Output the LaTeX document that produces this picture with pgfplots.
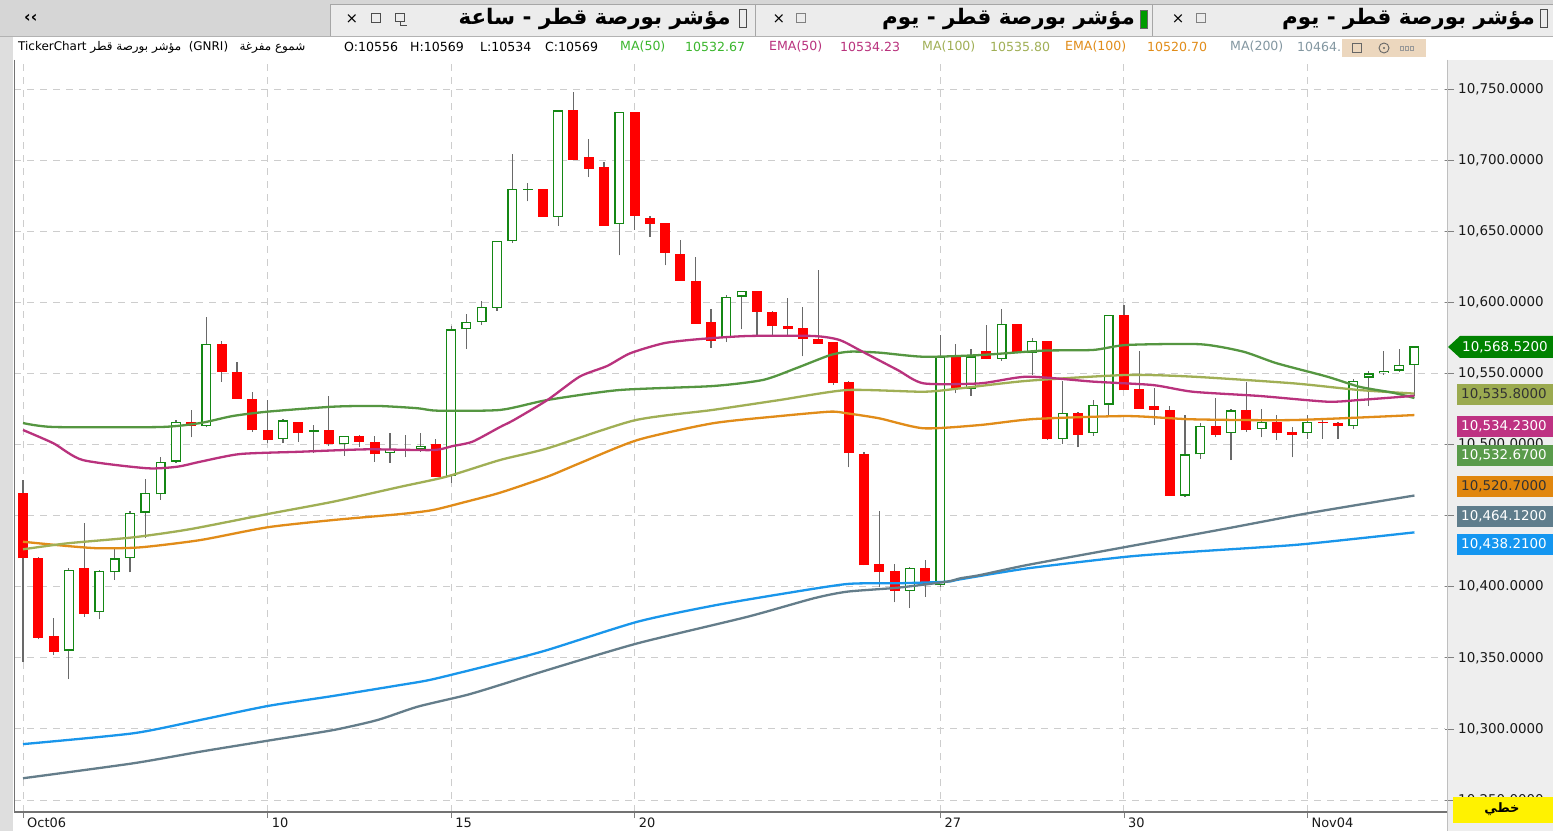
\documentclass[border=0pt]{standalone}
\usepackage{fontspec}
\setmainfont{DejaVu Sans}
\newfontfamily\arabicfont[Script=Arabic]{DejaVu Sans}
\usepackage{pgfplots}
\pgfplotsset{compat=1.18}
\usepackage{pgfplotstable}
\TeXXeTstate=1

\definecolor{bullc}{RGB}{20,135,20}
\definecolor{bearc}{RGB}{255,0,0}
\definecolor{wickc}{RGB}{105,105,105}
\definecolor{maL}{RGB}{85,150,65}
\definecolor{emaL}{RGB}{185,50,125}
\definecolor{maM}{RGB}{160,175,85}
\definecolor{emaM}{RGB}{225,140,25}
\definecolor{maS}{RGB}{100,125,138}
\definecolor{emaS}{RGB}{25,150,235}
\definecolor{gridc}{RGB}{205,205,205}
\definecolor{tabbar}{RGB}{214,214,214}
\definecolor{tabc}{RGB}{236,236,236}
\definecolor{stripc}{RGB}{238,238,238}
\definecolor{leftc}{RGB}{222,222,222}
\definecolor{lastc}{RGB}{0,130,0}
\definecolor{olbox}{RGB}{155,170,80}
\definecolor{mgbox}{RGB}{190,50,130}
\definecolor{gnbox}{RGB}{90,155,75}
\definecolor{orbox}{RGB}{225,135,15}
\definecolor{slbox}{RGB}{95,125,140}
\definecolor{blbox}{RGB}{20,150,240}
\definecolor{tanc}{RGB}{236,215,190}

% bullish candles: index, open, high, low, close
\pgfplotstableread{
i O H L C
3 10355 10413 10335 10412
5 10382 10412 10377 10411
6 10410 10427 10405 10420
7 10420 10453 10410 10452
8 10452 10476 10434 10466
9 10465 10491 10461 10488
10 10488 10517 10487 10516
12 10513 10590 10512 10571
17 10504 10518 10501 10517
19 10509 10514 10494 10510
21 10500 10506 10492 10506
24 10494 10508 10487 10497
25 10496 10507 10491 10497
26 10497 10508 10495 10499
28 10478 10583 10473 10581
29 10581 10592 10567 10586
30 10586 10601 10584 10597
31 10596 10643 10594 10643
32 10643 10704 10642 10680
33 10679 10684 10671 10680
35 10660 10735 10654 10735
39 10655 10734 10633 10734
46 10575 10605 10572 10604
47 10604 10608 10581 10608
58 10397 10414 10385 10413
60 10401 10577 10400 10562
62 10539 10567 10534 10562
64 10560 10595 10559 10585
66 10564 10575 10549 10573
68 10504 10545 10500 10522
70 10508 10531 10506 10528
71 10528 10591 10520 10591
76 10464 10521 10463 10493
77 10493 10515 10490 10513
79 10508 10525 10489 10524
81 10511 10525 10505 10516
84 10508 10521 10504 10516
87 10513 10546 10511 10545
88 10547 10552 10527 10550
89 10550 10566 10549 10552
90 10552 10567 10551 10556
91 10556 10569 10534 10569
}\bull

% bearish candles
\pgfplotstableread{
i O H L C
0 10466 10475 10347 10420
1 10420 10421 10363 10364
2 10365 10378 10352 10354
4 10413 10445 10379 10381
11 10516 10524 10505 10513
13 10571 10573 10544 10551
14 10551 10558 10532 10532
15 10532 10537 10509 10510
16 10510 10531 10501 10503
18 10516 10516 10502 10508
20 10510 10534 10499 10500
22 10506 10507 10498 10502
23 10502 10506 10488 10493
27 10500 10504 10477 10477
34 10680 10680 10660 10660
36 10735 10748 10700 10700
37 10702 10715 10688 10694
38 10695 10699 10654 10654
40 10734 10734 10651 10661
41 10659 10661 10646 10655
42 10656 10656 10626 10635
43 10634 10644 10615 10615
44 10615 10632 10585 10585
45 10586 10595 10568 10573
48 10608 10608 10577 10593
49 10593 10594 10577 10583
50 10583 10603 10577 10581
51 10582 10597 10562 10574
52 10574 10623 10571 10571
53 10572 10572 10542 10543
54 10544 10545 10484 10494
55 10493 10495 10415 10415
56 10416 10453 10400 10410
57 10411 10416 10389 10397
59 10413 10419 10393 10401
61 10562 10571 10536 10540
63 10566 10584 10560 10560
65 10585 10585 10564 10564
67 10573 10573 10503 10504
69 10522 10523 10498 10507
72 10591 10598 10538 10538
73 10539 10566 10525 10525
74 10527 10540 10514 10524
75 10524 10527 10464 10464
78 10513 10533 10505 10507
80 10524 10544 10509 10510
82 10516 10521 10503 10508
83 10509 10512 10491 10507
85 10516 10517 10504 10515
86 10515 10516 10504 10513
}\bear

\begin{document}
\begin{tikzpicture}
% ---------- backgrounds ----------
\begin{scope}[xshift=-14bp, yshift=812bp, x=1bp, y=-1bp]
  \fill[white] (0,0) rectangle (1553,831);
  \fill[tabbar] (0,0) rectangle (1553,36);
  \fill[tabc] (330,4) rectangle (755,36);
  \fill[tabc] (756,4) rectangle (1152,36);
  \fill[tabc] (1153,4) rectangle (1553,36);
  \draw[gray!70, line width=0.8bp] (330,36) -- (330,4) -- (1553,4);
  \draw[gray!70, line width=0.8bp] (755.5,4) -- (755.5,36);
  \draw[gray!70, line width=0.8bp] (1152.5,4) -- (1152.5,36);
  \draw[gray!60, line width=0.8bp] (0,36.5) -- (1553,36.5);
  \fill[leftc] (0,37) rectangle (13,831);
  \fill[stripc] (1447,60) rectangle (1553,831);
\end{scope}

\begin{axis}[
  at={(0,0)}, anchor=south west,
  scale only axis, width=1431bp, height=752bp,
  xmin=-0.589, xmax=93.0,
  ymin=10241.56, ymax=10770.39,
  axis line style={draw=none},
  xtick={0,16,28,40,60,72,84},
  xticklabels={Oct06,10,15,20,27,30,Nov04},
  ytick={10250,10300,...,10750},
  scaled y ticks=false,
  xtick pos=bottom, ytick pos=right,
  yticklabel pos=right,
  tick align=outside,
  major tick length=9bp,
  xtick style={draw=gray, line width=0.8bp, /pgfplots/major tick length=6bp},
  ytick style={draw=gray, line width=0.8bp},
  grid=major,
  major grid style={draw=gridc, dash pattern=on 7bp off 6bp, line width=0.9bp},
  /pgf/number format/assume math mode=true,
  yticklabel={\pgfmathprintnumber[fixed, fixed zerofill, precision=4, 1000 sep={,}]{\tick}},
  ticklabel style={font=\fontsize{13.5}{15}\selectfont, text=black!90},
  yticklabel style={anchor=west, inner sep=0pt, xshift=4bp},
  xticklabel style={anchor=north west, inner sep=0pt, xshift=4bp, yshift=3bp, font=\fontsize{13}{14}\selectfont},
]
% wicks
\addplot[draw=none, mark=none, forget plot,
  error bars/.cd, y dir=plus, y explicit, error mark=none,
  error bar style={draw=wickc, line width=1.2bp}]
  table[x=i, y=L, y error plus expr=\thisrow{H}-\thisrow{L}] {\bear};
\addplot[draw=none, mark=none, forget plot,
  error bars/.cd, y dir=plus, y explicit, error mark=none,
  error bar style={draw=wickc, line width=1.2bp}]
  table[x=i, y=L, y error plus expr=\thisrow{H}-\thisrow{L}] {\bull};
% bearish bodies
\addplot[draw=none, mark=none, forget plot,
  error bars/.cd, y dir=plus, y explicit, error mark=none,
  error bar style={draw=bearc, line width=10bp}]
  table[x=i, y=C, y error plus expr=\thisrow{O}-\thisrow{C}] {\bear};
% bullish bodies (outline + hollow interior)
\addplot[draw=none, mark=none, forget plot,
  error bars/.cd, y dir=plus, y explicit, error mark=none,
  error bar style={draw=bullc, line width=10bp}]
  table[x=i, y=O, y error plus expr=\thisrow{C}-\thisrow{O}] {\bull};
\addplot[draw=none, mark=none, forget plot,
  error bars/.cd, y dir=plus, y explicit, error mark=none,
  error bar style={draw=white, line width=7.4bp}]
  table[x=i, y expr=\thisrow{O}+0.9, y error plus expr={max(\thisrow{C}-\thisrow{O}-1.8,0)}] {\bull};

% EMA(200) blue
\addplot[emaS, line width=2.3bp, smooth, tension=0.4] coordinates {
(0,10289.3) (7.2,10296.9) (11.6,10306.3) (16,10316.1) (20.3,10323.2) (24.7,10330.9) (26.8,10334.9) (31.2,10346.6) (34.3,10355.5) (40.2,10375.4) (45.1,10386.6) (49.5,10394.7) (53.9,10401.9) (57.2,10402.4) (60.4,10403.5) (61.3,10405.2) (65.7,10412.9) (72.2,10421.1) (76.5,10424.6) (83.1,10429.3) (87.4,10434) (91,10438.21)};
% MA(200) slate
\addplot[maS, line width=2.3bp, smooth, tension=0.4] coordinates {
(0,10265.3) (7.2,10275.8) (11.6,10284) (16,10291.7) (20.3,10299.2) (23.2,10306.3) (25.8,10315.6) (29,10323.8) (31.2,10330.9) (34.3,10341.4) (40.2,10360.2) (47.4,10378.9) (51.7,10391.8) (53.9,10396.5) (57.2,10399.3) (60.4,10403.5) (61.3,10405.9) (62.6,10408.2) (65.7,10415.3) (72.2,10428.1) (78.8,10441.1) (84,10451.6) (91,10464.12)};
% EMA(100) orange
\addplot[emaM, line width=2.3bp, smooth, tension=0.4] coordinates {
(0,10431.6) (2.9,10428.6) (5,10427) (7.7,10427.7) (11.6,10432.8) (16,10441.8) (20.3,10446.9) (24.7,10451.1) (26.8,10453.9) (29,10459.8) (31.2,10466.1) (34.3,10477.4) (36.4,10486.8) (40.2,10503.2) (45.1,10514.9) (49.5,10520) (52.8,10523.1) (53.9,10521.9) (56,10518.4) (58.9,10511.4) (62.6,10513.7) (66.1,10517.9) (72.2,10520) (76.5,10517.7) (83.1,10517.2) (91,10520.7)};
% MA(100) olive
\addplot[maM, line width=2.3bp, smooth, tension=0.4] coordinates {
(0,10426.3) (2.9,10430.5) (7.2,10434.7) (10.9,10440.4) (16,10451.1) (20.3,10459.8) (24.7,10470.3) (27.7,10477.4) (31.2,10489.1) (34.3,10497.3) (40,10517) (45.1,10524.3) (49.5,10531.3) (53.9,10538.3) (58.9,10537.1) (61.3,10539.5) (65.7,10544.8) (72.2,10548.9) (76.5,10547.7) (83.1,10543) (87.4,10538.3) (91,10535.8)};
% MA(50) green
\addplot[maL, line width=2.3bp, smooth, tension=0.4] coordinates {
(0,10515.1) (2,10512.3) (9,10512.3) (11.6,10515.1) (13.7,10520) (16,10523.1) (20.3,10526.6) (23.2,10527.1) (25.8,10525.5) (27.1,10523.8) (31.2,10524.3) (34.3,10531.3) (39,10538.3) (45.1,10541.1) (48.4,10545.4) (50.6,10553.8) (52.8,10562.9) (54.1,10565.3) (56,10564.6) (58.9,10561.7) (62.6,10562.9) (66.7,10566) (70,10566.5) (72.2,10570) (77,10570.5) (79.8,10565.3) (82,10557.1) (85.3,10547.7) (87.4,10540.6) (89.6,10536.4) (91,10532.67)};
% EMA(50) magenta
\addplot[emaL, line width=2.3bp, smooth, tension=0.4] coordinates {
(0,10510.2) (2,10500.8) (3.9,10489.1) (8.1,10483.3) (10.1,10484.4) (11.6,10487.9) (14.2,10493.3) (18.1,10494.9) (22.5,10496.6) (26.8,10496.1) (28.1,10498.9) (29.4,10502) (31.2,10512.3) (32.1,10517.2) (34.3,10531.3) (36.4,10547.7) (38.2,10555.2) (39.7,10564.1) (41.9,10571.2) (44.1,10574) (47.4,10576.3) (51.7,10576.3) (53.4,10573.5) (54.9,10565.3) (57.2,10552.4) (58.9,10543) (62.6,10543) (65.7,10547.7) (70,10544.2) (73.9,10541.8) (76.5,10537.1) (80.9,10534.1) (85.3,10530.1) (87.4,10531.3) (91,10534.23)};
\end{axis}

% ---------- overlays ----------
\begin{scope}[xshift=-14bp, yshift=812bp, x=1bp, y=-1bp]
  % axis frame lines
  \draw[gray!90!black, line width=1bp] (14,60) -- (14,812);
  \draw[gray!90!black, line width=1.2bp] (14,812) -- (1447,812);
  \draw[gray!50, line width=0.8bp] (1447,60) -- (1447,831);
  % tab bar content
  \node[anchor=west, inner sep=0] at (24,18) {\bfseries\fontsize{16}{16}\selectfont ‹‹};
  \node[inner sep=0] at (352,19) {\fontsize{15}{15}\selectfont ×};
  \draw[black!70, line width=1bp] (371,14) rectangle (380,23);
  \draw[black!70, line width=1bp] (395,14) rectangle (404,22);
  \draw[black!70, line width=0.8bp] (400,22) -- (400,25) -- (407,25);
  \node[anchor=east, inner sep=0] at (731,19) {\arabicfont\bfseries\fontsize{21.5}{23}\selectfont\beginR مؤشر بورصة قطر - ساعة\endR};
  \draw[black!70, line width=1bp] (739,10) rectangle (746,28);
  \node[inner sep=0] at (779,19) {\fontsize{15}{15}\selectfont ×};
  \draw[black!50, line width=1bp] (796,14) rectangle (805,23);
  \node[anchor=east, inner sep=0] at (1135,19) {\arabicfont\bfseries\fontsize{21.5}{23}\selectfont\beginR مؤشر بورصة قطر - يوم\endR};
  \fill[lastc!80!green, draw=black!60, line width=0.8bp] (1140,10) rectangle (1147,28);
  \node[inner sep=0] at (1178,19) {\fontsize{15}{15}\selectfont ×};
  \draw[black!50, line width=1bp] (1196,14) rectangle (1205,23);
  \node[anchor=east, inner sep=0] at (1535,19) {\arabicfont\bfseries\fontsize{21.5}{23}\selectfont\beginR مؤشر بورصة قطر - يوم\endR};
  \draw[black!70, line width=1bp] (1540,10) rectangle (1547,28);
  % info line
  \node[anchor=west, inner sep=0] at (18,47) {\fontsize{12}{13}\selectfont TickerChart\ {\arabicfont\beginR مؤشر بورصة قطر\endR}\ \ (GNRI)\ \ \ {\arabicfont\beginR شموع مفرغة\endR}};
  \begin{scope}[every node/.style={anchor=west, inner sep=0, font=\fontsize{12.6}{14}\selectfont}]
    \node at (344,47) {O:10556};
    \node at (410,47) {H:10569};
    \node at (480,47) {L:10534};
    \node at (545,47) {C:10569};
    \node[text=maL!70!green] at (620,47) {MA(50)};
    \node[text=maL!70!green] at (685,47) {10532.67};
    \node[text=emaL] at (769,47) {EMA(50)};
    \node[text=emaL] at (840,47) {10534.23};
    \node[text=maM] at (922,47) {MA(100)};
    \node[text=maM] at (990,47) {10535.80};
    \node[text=emaM] at (1065,47) {EMA(100)};
    \node[text=emaM] at (1147,47) {10520.70};
    \node[text=maS!80!white] at (1230,47) {MA(200)};
    \node[text=maS!80!white] at (1297,47) {10464.};
  \end{scope}
  \fill[tanc] (1342,39) rectangle (1426,57);
  \draw[black!60, line width=0.9bp] (1352,43) rectangle (1361,52);
  \draw[black!60, line width=0.9bp] (1384,48) circle (5);
  \fill[black!60] (1384,48) circle (1.2);
  \draw[black!40, line width=0.8bp] (1400,46) rectangle (1403,50) (1405,46) rectangle (1408,50) (1410,46) rectangle (1413,50);
  % right side value labels
  \begin{scope}[every node/.style={anchor=west, inner sep=0, font=\fontsize{13.5}{15}\selectfont}]
    \fill[lastc] (1448,347) -- (1460,336) -- (1553,336) -- (1553,358) -- (1460,358) -- cycle;
    \node[text=white] at (1462,347) {10,568.5200};
    \fill[olbox] (1457,384) rectangle (1553,405);
    \node[text=black!80] at (1461,394.5) {10,535.8000};
    \fill[mgbox] (1457,416) rectangle (1553,437);
    \node[text=white] at (1461,426.5) {10,534.2300};
    \fill[gnbox] (1457,445) rectangle (1553,466);
    \node[text=white] at (1461,455.5) {10,532.6700};
    \fill[orbox] (1457,476) rectangle (1553,497);
    \node[text=black!80] at (1461,486.5) {10,520.7000};
    \fill[slbox] (1457,506) rectangle (1553,527);
    \node[text=white] at (1461,516.5) {10,464.1200};
    \fill[blbox] (1457,534) rectangle (1553,555);
    \node[text=white] at (1461,544.5) {10,438.2100};
  \end{scope}
  % yellow mode box
  \fill[yellow] (1453,797) rectangle (1553,823);
  \node at (1502,809) {\arabicfont\bfseries\fontsize{13}{14}\selectfont\beginR خطي\endR};
  \pgfresetboundingbox
  \path[use as bounding box] (0,0) rectangle (1553,831);
\end{scope}
\end{tikzpicture}
\end{document}
